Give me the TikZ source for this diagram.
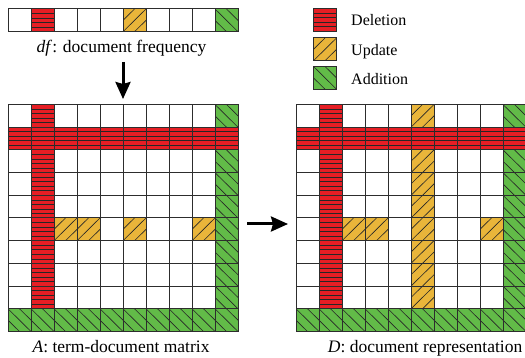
\documentclass[tikz,border=0pt]{standalone}
\usepackage{fontspec}
\setmainfont{Liberation Serif}
\usepackage{xcolor}
\usepackage{tikz}
\usetikzlibrary{arrows.meta,positioning}

\definecolor{delred}{RGB}{230,30,36}
\definecolor{updorange}{RGB}{233,181,58}
\definecolor{addgreen}{RGB}{98,187,72}
\definecolor{gridgray}{RGB}{45,45,45}

\newcommand{\cw}{23}
\newcommand{\ch}{22.7}

\tikzset{
  cellbox/.style={draw=gridgray, line width=1pt},
  hatchline/.style={draw=black!85, line width=0.65pt},
  caption/.style={font=\fontsize{17.5}{20}\selectfont, inner sep=0pt, anchor=base},
  legendtext/.style={font=\fontsize{16}{19}\selectfont, inner sep=0pt, anchor=base west},
  bigarrow/.style={-{Stealth[length=17pt,width=15pt,inset=2pt]}, line width=3pt}
}

% one cell, top-left corner at (#1,#2)
\newcommand{\plaincell}[2]{%
  \draw[cellbox, fill=white] (#1,#2) rectangle ++(\cw,\ch);}
\newcommand{\delcell}[2]{%
  \begin{scope}[shift={(#1,#2)}]
    \fill[delred] (0,0) rectangle (\cw,\ch);
    \foreach \k in {1,...,4}
      \draw[hatchline] (0,\k*\ch/5) -- (\cw,\k*\ch/5);
    \draw[cellbox] (0,0) rectangle (\cw,\ch);
  \end{scope}}
\newcommand{\updcell}[2]{%
  \begin{scope}[shift={(#1,#2)}]
    \fill[updorange] (0,0) rectangle (\cw,\ch);
    \begin{scope}
      \clip (0,0) rectangle (\cw,\ch);
      \foreach \k in {-11.5,0,11.5}
        \draw[hatchline] (\k,\ch) -- (\k+\cw,0);
    \end{scope}
    \draw[cellbox] (0,0) rectangle (\cw,\ch);
  \end{scope}}
\newcommand{\addcell}[2]{%
  \begin{scope}[shift={(#1,#2)}]
    \fill[addgreen] (0,0) rectangle (\cw,\ch);
    \begin{scope}
      \clip (0,0) rectangle (\cw,\ch);
      \foreach \k in {-11.5,0,11.5}
        \draw[hatchline] (\k,0) -- (\k+\cw,\ch);
    \end{scope}
    \draw[cellbox] (0,0) rectangle (\cw,\ch);
  \end{scope}}

\begin{document}
\begin{tikzpicture}[x=1pt, y=-1pt]
  \useasboundingbox (0,0) rectangle (525,358);

  % document frequency vector
  \foreach \c in {0,...,9} \plaincell{8+\c*\cw}{9};
  \delcell{8+1*\cw}{9}
  \updcell{8+5*\cw}{9}
  \addcell{8+9*\cw}{9}
  \node[caption] (dflabel) at (121.5,53) {\textit{df}: document frequency};

  % legend
  \delcell{313.5}{8.5}
  \updcell{313.5}{38}
  \addcell{313.5}{66.5}
  \node[legendtext] (deltext) at (351,26) {Deletion};
  \node[legendtext] (updtext) at (351,55.5) {Update};
  \node[legendtext] (addtext) at (351,85) {Addition};

  % A: term-document matrix
  \foreach \r in {0,...,9}
    \foreach \c in {0,...,9}
      \plaincell{8+\c*\cw}{104.5+\r*\ch};
  \foreach \r in {0,...,8} \delcell{8+1*\cw}{104.5+\r*\ch};
  \foreach \c in {0,...,9} \delcell{8+\c*\cw}{104.5+1*\ch};
  \foreach \r in {0,2,3,...,9} \addcell{8+9*\cw}{104.5+\r*\ch};
  \foreach \c in {0,...,8} \addcell{8+\c*\cw}{104.5+9*\ch};
  \foreach \c in {2,3,5,8} \updcell{8+\c*\cw}{104.5+5*\ch};
  \node[caption] (Alabel) at (121,352) {\textit{A}: term-document matrix};

  % D: document representation
  \foreach \r in {0,...,9}
    \foreach \c in {0,...,9}
      \plaincell{296+\c*\cw}{104.5+\r*\ch};
  \foreach \r in {0,...,8} \delcell{296+1*\cw}{104.5+\r*\ch};
  \foreach \c in {0,...,9} \delcell{296+\c*\cw}{104.5+1*\ch};
  \foreach \r in {0,2,3,...,9} \addcell{296+9*\cw}{104.5+\r*\ch};
  \foreach \c in {0,...,8} \addcell{296+\c*\cw}{104.5+9*\ch};
  \foreach \r in {0,2,3,...,8} \updcell{296+5*\cw}{104.5+\r*\ch};
  \foreach \c in {2,3,8} \updcell{296+\c*\cw}{104.5+5*\ch};
  \node[caption, anchor=base east] (Dlabel) at (522.5,352) {\textit{D}: document representation};

  % arrows
  \coordinate (dfout) at (123,62);
  \coordinate (Ain) at (123,99);
  \coordinate (Aout) at (247,224);
  \coordinate (Din) at (288,224);
  \draw[bigarrow] (dfout) -- (Ain);
  \draw[bigarrow] (Aout) -- (Din);
\end{tikzpicture}
\end{document}
